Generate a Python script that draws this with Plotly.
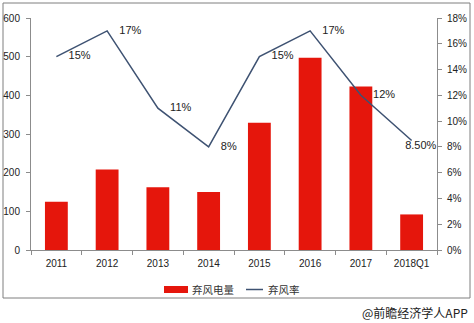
import plotly.graph_objects as go

categories = ["2011", "2012", "2013", "2014", "2015", "2016", "2017", "2018Q1"]
curtailed_power = [125, 208, 162, 150, 329, 497, 423, 92]   # 弃风电量
curtailment_rate = [15, 17, 11, 8, 15, 17, 12, 8.5]          # 弃风率 (%)
rate_labels = ["15%", "17%", "11%", "8%", "15%", "17%", "12%", "8.50%"]
left_ticks = [0, 100, 200, 300, 400, 500, 600]
right_ticks = [0, 2, 4, 6, 8, 10, 12, 14, 16, 18]
right_tick_text = ["0%", "2%", "4%", "6%", "8%", "10%", "12%", "14%", "16%", "18%"]

W, H = 474, 323
L, R, T, B = 31, 437, 18, 250
pw, ph = R - L, B - T

def px(x):
    return (x - L) / pw

def py(y):
    return (B - y) / ph

BAR_COLOR = "#E5160C"
LINE_COLOR = "#3E5272"

fig = go.Figure()
fig.add_trace(go.Bar(
    x=categories, y=curtailed_power, name="弃风电量",
    marker=dict(color=BAR_COLOR, line=dict(width=0)),
    yaxis="y", showlegend=False,
))
fig.add_trace(go.Scatter(
    x=categories, y=curtailment_rate, name="弃风率",
    mode="lines", line=dict(color=LINE_COLOR, width=1.5),
    yaxis="y2", showlegend=False,
))
n = len(categories)
positions = ["middle right"] * (n - 1) + ["bottom center"]
fig.add_trace(go.Scatter(
    x=categories, y=curtailment_rate, mode="text",
    text=[("\u2007\u2007" if i < n - 1 else "\u2007\u2007\u2007") + t
          for i, t in enumerate(rate_labels)],
    textposition=positions,
    textfont=dict(family="Liberation Sans, Arial, sans-serif", size=11, color="#222"),
    yaxis="y2", showlegend=False, hoverinfo="skip", cliponaxis=False,
))

label_font = dict(family="Noto Sans CJK SC, sans-serif", size=10.5, color="#333")
annotations = [
    dict(x=px(470), y=py(312), xref="paper", yref="paper", text="@前瞻经济学人APP",
         showarrow=False, xanchor="right", yanchor="middle",
         font=dict(family="Noto Sans CJK SC, sans-serif", size=12, color="#222")),
    dict(x=px(190), y=py(289.5), xref="paper", yref="paper", text="弃风电量",
         showarrow=False, xanchor="left", yanchor="middle", font=label_font),
    dict(x=px(266), y=py(289.5), xref="paper", yref="paper", text="弃风率",
         showarrow=False, xanchor="left", yanchor="middle", font=label_font),
]

axis_font = dict(family="Liberation Sans, Arial, sans-serif", size=10, color="#222")

fig.update_layout(
    width=W, height=H,
    margin=dict(l=L, r=W - R, t=T, b=H - B, pad=0, autoexpand=False),
    paper_bgcolor="white", plot_bgcolor="white",
    bargap=0.55,
    showlegend=False,
    xaxis=dict(
        type="category", tickfont=axis_font, showgrid=False, automargin=False,
        showline=True, linecolor="#8c8c8c", linewidth=1,
        ticks="outside", tickson="boundaries", ticklen=4, tickcolor="#8c8c8c",
        ticklabelstandoff=4,
        range=[-0.5, n - 0.5],
    ),
    yaxis=dict(
        range=[0, 600], tickvals=left_ticks, tickfont=axis_font, showgrid=False,
        automargin=False, ticklabelstandoff=4,
        showline=True, linecolor="#8c8c8c", linewidth=1,
        ticks="outside", ticklen=4, tickcolor="#8c8c8c", zeroline=False,
    ),
    yaxis2=dict(
        range=[0, 18], tickvals=right_ticks, ticktext=right_tick_text, tickfont=axis_font,
        overlaying="y", side="right", showgrid=False, automargin=False,
        ticklabelstandoff=3,
        showline=True, linecolor="#8c8c8c", linewidth=1,
        ticks="outside", ticklen=4, tickcolor="#8c8c8c", zeroline=False,
    ),
    annotations=annotations,
    shapes=[
        dict(type="rect", xref="paper", yref="paper",
             x0=px(3), x1=px(470), y0=py(298), y1=py(3),
             line=dict(color="#7f7f7f", width=1), fillcolor="rgba(0,0,0,0)", layer="below"),
        dict(type="rect", xref="paper", yref="paper",
             x0=px(164), x1=px(188), y0=py(293), y1=py(286),
             line=dict(width=0), fillcolor=BAR_COLOR),
        dict(type="line", xref="paper", yref="paper",
             x0=px(246), x1=px(263), y0=py(289.5), y1=py(289.5),
             line=dict(color=LINE_COLOR, width=1.5)),
    ],
)

fig.write_html("out.html")
